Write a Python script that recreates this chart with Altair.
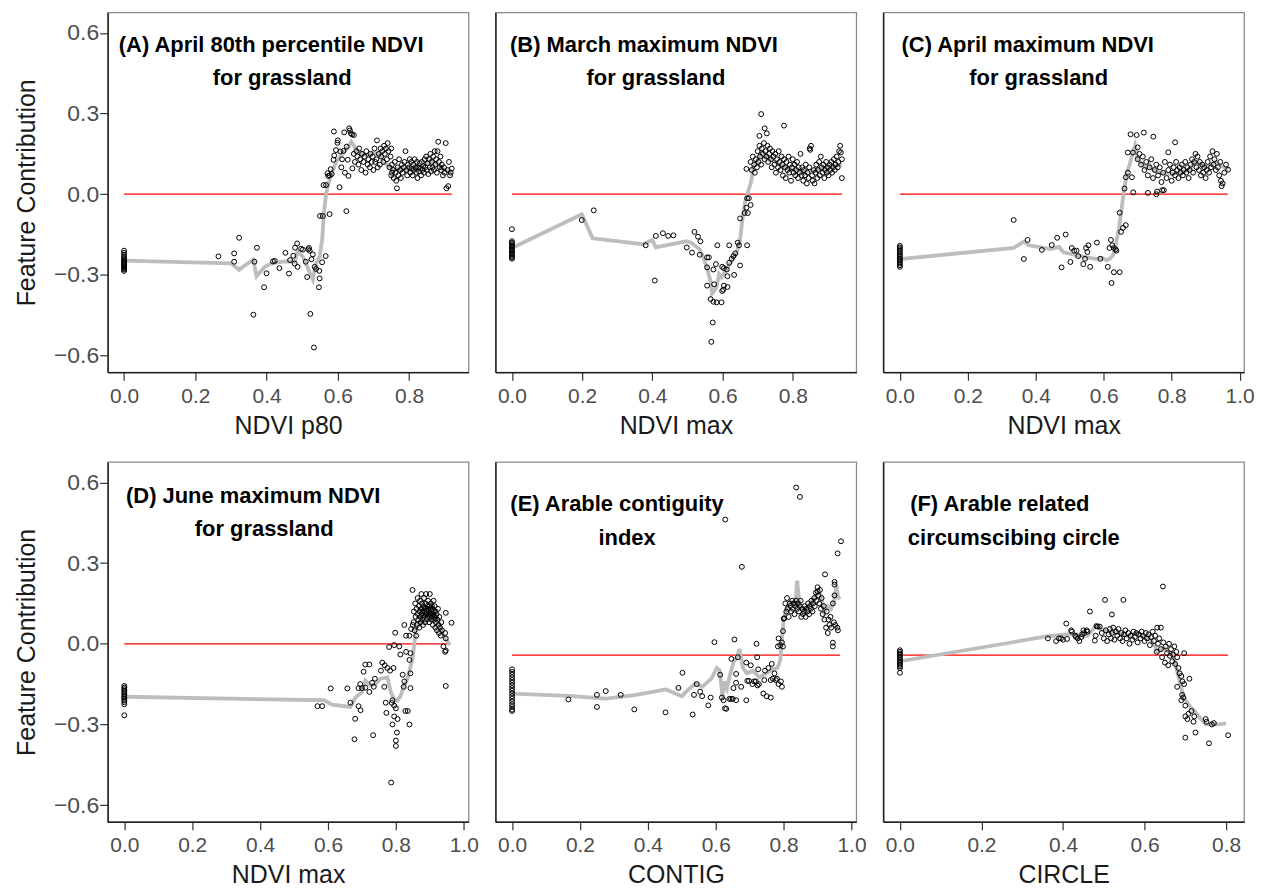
import altair as alt
import pandas as pd

# ---------------- data ----------------
# Panel A: April 80th percentile NDVI
A_ZERO_Y = [-0.21, -0.218, -0.225, -0.232, -0.238, -0.243, -0.248, -0.252, -0.256,
            -0.26, -0.264, -0.268, -0.272, -0.276, -0.28, -0.285]
A_PTS = [(0.265, -0.231), (0.309, -0.22), (0.309, -0.251), (0.323, -0.162), (0.366, -0.251),
         (0.373, -0.199), (0.363, -0.448), (0.393, -0.346), (0.40, -0.294), (0.418, -0.25),
         (0.423, -0.248), (0.436, -0.275), (0.453, -0.218), (0.463, -0.295), (0.466, -0.245),
         (0.475, -0.229), (0.479, -0.258), (0.48, -0.199), (0.486, -0.183), (0.487, -0.27),
         (0.497, -0.203), (0.502, -0.206), (0.51, -0.251), (0.514, -0.308), (0.517, -0.205),
         (0.519, -0.2), (0.521, -0.21), (0.523, -0.445), (0.526, -0.242), (0.53, -0.224),
         (0.533, -0.57), (0.535, -0.27), (0.539, -0.278), (0.548, -0.285), (0.549, -0.313),
         (0.547, -0.346), (0.556, -0.253), (0.566, -0.23), (0.55, -0.081), (0.558, -0.081),
         (0.577, -0.074), (0.56, 0.034), (0.567, 0.034), (0.573, 0.068), (0.571, 0.078),
         (0.577, 0.07), (0.58, 0.093), (0.583, 0.075), (0.605, 0.026), (0.624, -0.063),
         (0.588, 0.128), (0.59, 0.144), (0.595, 0.164), (0.599, 0.191), (0.589, 0.233),
         (0.60, 0.20), (0.607, 0.159), (0.61, 0.10), (0.612, 0.13), (0.616, 0.161),
         (0.618, 0.23), (0.62, 0.08), (0.625, 0.177), (0.628, 0.128), (0.63, 0.068),
         (0.632, 0.245), (0.634, 0.237), (0.637, 0.226), (0.64, 0.222), (0.645, 0.22),
         (0.641, 0.096), (0.645, 0.15), (0.648, 0.12), (0.652, 0.16), (0.655, 0.14),
         (0.658, 0.11), (0.66, 0.17), (0.663, 0.13), (0.666, 0.09), (0.668, 0.15),
         (0.672, 0.12), (0.675, 0.14), (0.678, 0.08), (0.68, 0.16), (0.684, 0.11),
         (0.686, 0.13), (0.69, 0.10), (0.692, 0.15), (0.695, 0.12), (0.698, 0.14),
         (0.70, 0.09), (0.703, 0.17), (0.705, 0.12), (0.708, 0.13), (0.71, 0.20),
         (0.712, 0.10), (0.715, 0.15), (0.718, 0.11), (0.72, 0.17), (0.722, 0.14),
         (0.725, 0.16), (0.728, 0.12), (0.73, 0.18), (0.732, 0.15), (0.735, 0.17),
         (0.738, 0.13), (0.74, 0.19), (0.742, 0.16), (0.745, 0.10), (0.748, 0.14),
         (0.75, 0.17), (0.752, 0.08), (0.75, 0.07), (0.752, 0.11), (0.755, 0.09),
         (0.757, 0.06), (0.76, 0.12), (0.762, 0.08), (0.764, 0.05), (0.766, 0.022),
         (0.768, 0.10), (0.77, 0.07), (0.772, 0.13), (0.775, 0.09), (0.777, 0.06),
         (0.78, 0.11), (0.782, 0.08), (0.785, 0.10), (0.787, 0.12), (0.79, 0.16),
         (0.792, 0.09), (0.795, 0.07), (0.797, 0.11), (0.80, 0.10), (0.802, 0.13),
         (0.804, 0.08), (0.806, 0.12), (0.808, 0.095), (0.81, 0.07), (0.812, 0.11),
         (0.814, 0.09), (0.816, 0.13), (0.818, 0.10), (0.82, 0.08), (0.822, 0.12),
         (0.824, 0.06), (0.826, 0.10), (0.828, 0.085), (0.83, 0.115), (0.832, 0.095),
         (0.834, 0.07), (0.836, 0.12), (0.838, 0.09), (0.84, 0.105), (0.842, 0.08),
         (0.844, 0.13), (0.846, 0.10), (0.848, 0.14), (0.85, 0.09), (0.852, 0.115),
         (0.854, 0.075), (0.856, 0.13), (0.858, 0.10), (0.86, 0.15), (0.862, 0.085),
         (0.864, 0.12), (0.866, 0.10), (0.868, 0.14), (0.87, 0.09), (0.872, 0.16),
         (0.874, 0.11), (0.876, 0.13), (0.878, 0.08), (0.88, 0.16), (0.882, 0.195),
         (0.884, 0.12), (0.886, 0.10), (0.888, 0.14), (0.89, 0.09), (0.892, 0.11),
         (0.895, 0.07), (0.898, 0.10), (0.90, 0.08), (0.903, 0.19), (0.905, 0.022),
         (0.908, 0.09), (0.91, 0.03), (0.912, 0.12), (0.915, 0.07), (0.917, 0.08),
         (0.92, 0.095)]
A_LINE = [(0.0, -0.247), (0.30, -0.257), (0.323, -0.281), (0.344, -0.26), (0.363, -0.245),
          (0.372, -0.305), (0.395, -0.27), (0.414, -0.257), (0.45, -0.25), (0.479, -0.251),
          (0.487, -0.213), (0.502, -0.232), (0.521, -0.29), (0.53, -0.317), (0.539, -0.257),
          (0.549, -0.232), (0.556, -0.17), (0.561, -0.071), (0.567, 0.0), (0.576, 0.05),
          (0.585, 0.085), (0.595, 0.12), (0.61, 0.145), (0.626, 0.17), (0.638, 0.195),
          (0.65, 0.17), (0.665, 0.15), (0.683, 0.145), (0.70, 0.155), (0.72, 0.148),
          (0.73, 0.12), (0.75, 0.095), (0.79, 0.09), (0.83, 0.10), (0.86, 0.125),
          (0.88, 0.11), (0.90, 0.09), (0.92, 0.085)]

# Panel B: March maximum NDVI
B_ZERO_Y = [-0.13, -0.175, -0.18, -0.185, -0.19, -0.195, -0.2, -0.205, -0.21, -0.215,
            -0.22, -0.225, -0.23, -0.235, -0.24]
B_PTS = [(0.199, -0.096), (0.233, -0.06), (0.381, -0.19), (0.407, -0.321), (0.41, -0.155),
         (0.43, -0.145), (0.445, -0.155), (0.46, -0.153), (0.498, -0.198), (0.513, -0.217),
         (0.52, -0.14), (0.53, -0.158), (0.537, -0.175), (0.535, -0.225), (0.556, -0.235),
         (0.561, -0.235), (0.556, -0.272), (0.556, -0.34), (0.566, -0.39), (0.574, -0.40),
         (0.583, -0.402), (0.597, -0.402), (0.572, -0.477), (0.568, -0.549), (0.576, -0.335),
         (0.581, -0.26), (0.574, -0.28), (0.585, -0.19), (0.599, -0.27), (0.604, -0.275),
         (0.612, -0.28), (0.614, -0.305), (0.604, -0.34), (0.614, -0.345), (0.599, -0.36),
         (0.602, -0.355), (0.619, -0.19), (0.619, -0.255), (0.626, -0.24), (0.631, -0.23),
         (0.636, -0.22), (0.633, -0.30), (0.643, -0.18), (0.647, -0.19), (0.65, -0.265),
         (0.65, -0.09), (0.663, -0.07), (0.668, -0.05), (0.672, -0.07), (0.675, -0.015),
         (0.68, -0.04), (0.67, -0.19), (0.668, 0.094), (0.67, -0.015),
         (0.71, 0.298), (0.775, 0.255), (0.705, 0.217), (0.726, 0.226), (0.72, 0.245),
         (0.68, 0.12), (0.683, 0.09), (0.686, 0.14), (0.69, 0.11), (0.692, 0.08),
         (0.695, 0.13), (0.698, 0.10), (0.70, 0.16), (0.702, 0.12), (0.705, 0.18),
         (0.707, 0.14), (0.71, 0.11), (0.712, 0.17), (0.715, 0.15), (0.718, 0.19),
         (0.72, 0.13), (0.722, 0.16), (0.725, 0.14), (0.728, 0.18), (0.73, 0.12),
         (0.733, 0.15), (0.735, 0.17), (0.738, 0.13), (0.74, 0.10), (0.742, 0.16),
         (0.745, 0.14), (0.748, 0.11), (0.75, 0.15), (0.752, 0.08), (0.755, 0.13),
         (0.758, 0.10), (0.76, 0.16), (0.762, 0.12), (0.765, 0.09), (0.768, 0.14),
         (0.77, 0.11), (0.772, 0.07), (0.775, 0.13), (0.778, 0.10), (0.78, 0.06),
         (0.782, 0.12), (0.785, 0.09), (0.788, 0.14), (0.79, 0.08), (0.792, 0.11),
         (0.795, 0.05), (0.798, 0.10), (0.80, 0.13), (0.802, 0.08), (0.805, 0.11),
         (0.807, 0.07), (0.81, 0.09), (0.812, 0.12), (0.815, 0.06), (0.817, 0.10),
         (0.82, 0.08), (0.822, 0.15), (0.825, 0.07), (0.827, 0.10), (0.83, 0.05),
         (0.832, 0.09), (0.835, 0.07), (0.837, 0.11), (0.84, 0.04), (0.842, 0.08),
         (0.845, 0.06), (0.847, 0.10), (0.85, 0.165), (0.852, 0.18), (0.848, 0.17),
         (0.855, 0.07), (0.857, 0.05), (0.86, 0.09), (0.862, 0.04), (0.865, 0.08),
         (0.867, 0.11), (0.87, 0.06), (0.872, 0.09), (0.875, 0.12), (0.877, 0.07),
         (0.88, 0.14), (0.882, 0.10), (0.885, 0.08), (0.887, 0.11), (0.89, 0.06),
         (0.892, 0.09), (0.895, 0.12), (0.897, 0.08), (0.90, 0.10), (0.902, 0.07),
         (0.905, 0.11), (0.907, 0.09), (0.91, 0.12), (0.912, 0.08), (0.915, 0.10),
         (0.917, 0.13), (0.92, 0.09), (0.922, 0.11), (0.925, 0.14), (0.928, 0.10),
         (0.93, 0.12), (0.932, 0.16), (0.935, 0.18), (0.937, 0.155), (0.94, 0.13),
         (0.94, 0.06)]
B_LINE = [(0.0, -0.2), (0.199, -0.075), (0.23, -0.164), (0.373, -0.186), (0.40, -0.17),
          (0.41, -0.198), (0.497, -0.175), (0.51, -0.18), (0.535, -0.205), (0.545, -0.235),
          (0.555, -0.27), (0.565, -0.32), (0.57, -0.37), (0.578, -0.357), (0.583, -0.345),
          (0.59, -0.297), (0.597, -0.31), (0.606, -0.29), (0.616, -0.27), (0.63, -0.24),
          (0.64, -0.22), (0.65, -0.17), (0.656, -0.10), (0.664, -0.03), (0.673, 0.01),
          (0.682, 0.05), (0.687, 0.10), (0.697, 0.118), (0.71, 0.16), (0.73, 0.14),
          (0.76, 0.11), (0.80, 0.09), (0.83, 0.085), (0.86, 0.09), (0.90, 0.10), (0.94, 0.11)]

# Panel C: April maximum NDVI
C_ZERO_Y = [-0.192, -0.198, -0.204, -0.21, -0.216, -0.222, -0.228, -0.234, -0.24, -0.246,
            -0.252, -0.258, -0.264, -0.27]
C_PTS = [(0.335, -0.096), (0.365, -0.241), (0.376, -0.17), (0.418, -0.207), (0.447, -0.189),
         (0.463, -0.162), (0.476, -0.272), (0.488, -0.15), (0.502, -0.252), (0.506, -0.2),
         (0.513, -0.21), (0.52, -0.21), (0.525, -0.23), (0.54, -0.26), (0.545, -0.24),
         (0.548, -0.2), (0.552, -0.215), (0.555, -0.19), (0.56, -0.27), (0.58, -0.18),
         (0.59, -0.24), (0.612, -0.27), (0.63, -0.29), (0.647, -0.29), (0.623, -0.33),
         (0.617, -0.2), (0.621, -0.17), (0.625, -0.19), (0.63, -0.2), (0.635, -0.205),
         (0.637, -0.21), (0.647, -0.069), (0.651, -0.14), (0.657, -0.125), (0.665, -0.115),
         (0.661, 0.021), (0.665, 0.063), (0.671, 0.08), (0.683, 0.063), (0.679, 0.223),
         (0.697, 0.22), (0.718, 0.229), (0.746, 0.214), (0.671, 0.155), (0.686, 0.155),
         (0.70, 0.174), (0.81, 0.193), (0.79, 0.156), (0.687, 0.007), (0.73, 0.005),
         (0.755, 0.0), (0.757, 0.01), (0.772, 0.015), (0.777, 0.015), (0.70, 0.13),
         (0.705, 0.15), (0.71, 0.11), (0.715, 0.14), (0.72, 0.09), (0.725, 0.12),
         (0.73, 0.07), (0.735, 0.10), (0.74, 0.13), (0.745, 0.06), (0.75, 0.09),
         (0.755, 0.11), (0.76, 0.07), (0.765, 0.10), (0.77, 0.045), (0.775, 0.08),
         (0.78, 0.12), (0.785, 0.06), (0.79, 0.09), (0.795, 0.11), (0.80, 0.05),
         (0.803, 0.08), (0.806, 0.10), (0.81, 0.07), (0.813, 0.12), (0.816, 0.09),
         (0.82, 0.06), (0.823, 0.10), (0.826, 0.08), (0.83, 0.11), (0.833, 0.07),
         (0.836, 0.09), (0.84, 0.12), (0.843, 0.08), (0.846, 0.10), (0.85, 0.06),
         (0.853, 0.09), (0.856, 0.11), (0.86, 0.13), (0.863, 0.08), (0.866, 0.12),
         (0.87, 0.15), (0.873, 0.10), (0.876, 0.14), (0.88, 0.09), (0.883, 0.12),
         (0.886, 0.07), (0.89, 0.11), (0.893, 0.08), (0.896, 0.10), (0.90, 0.06),
         (0.903, 0.09), (0.906, 0.12), (0.91, 0.08), (0.913, 0.14), (0.916, 0.10),
         (0.92, 0.16), (0.923, 0.11), (0.926, 0.13), (0.93, 0.09), (0.933, 0.15),
         (0.936, 0.10), (0.94, 0.07), (0.943, 0.12), (0.945, 0.05), (0.947, 0.03),
         (0.95, 0.04), (0.955, 0.08), (0.96, 0.11), (0.966, 0.091)]
C_LINE = [(0.0, -0.241), (0.335, -0.2), (0.365, -0.176), (0.38, -0.19), (0.404, -0.195),
          (0.443, -0.204), (0.468, -0.196), (0.482, -0.216), (0.52, -0.227), (0.55, -0.235),
          (0.576, -0.24), (0.596, -0.237), (0.608, -0.246), (0.618, -0.24), (0.628, -0.226),
          (0.637, -0.177), (0.645, -0.126), (0.653, -0.05), (0.66, 0.015), (0.668, 0.077),
          (0.676, 0.11), (0.685, 0.153), (0.692, 0.18), (0.70, 0.13), (0.71, 0.115),
          (0.723, 0.098), (0.733, 0.115), (0.738, 0.098), (0.76, 0.08), (0.80, 0.075),
          (0.85, 0.09), (0.87, 0.12), (0.90, 0.10), (0.93, 0.12), (0.966, 0.09)]

# Panel D: June maximum NDVI
D_ZERO_Y = [-0.157, -0.163, -0.169, -0.175, -0.181, -0.187, -0.193, -0.199, -0.205,
            -0.211, -0.217, -0.225, -0.266]
D_PTS = [(0.569, -0.232), (0.583, -0.232), (0.608, -0.166), (0.657, -0.166), (0.666, -0.219),
         (0.678, -0.355), (0.68, -0.279), (0.69, -0.232), (0.696, -0.247), (0.69, -0.165),
         (0.695, -0.15), (0.70, -0.165), (0.705, -0.104), (0.71, -0.077), (0.722, -0.077),
         (0.71, -0.163), (0.722, -0.179), (0.73, -0.145), (0.735, -0.16), (0.738, -0.13),
         (0.733, -0.34), (0.756, -0.1), (0.76, -0.07), (0.767, -0.08), (0.775, -0.09),
         (0.783, -0.1), (0.793, -0.09), (0.766, -0.16), (0.77, -0.219), (0.772, -0.257),
         (0.78, -0.012), (0.786, -0.516), (0.79, -0.30), (0.795, -0.27), (0.79, -0.21),
         (0.795, -0.23), (0.80, -0.24), (0.788, -0.22), (0.798, 0.041), (0.795, -0.005),
         (0.81, -0.01), (0.803, -0.33), (0.80, -0.36), (0.80, -0.38), (0.805, -0.28),
         (0.813, -0.04), (0.82, -0.115), (0.825, -0.14), (0.823, -0.16), (0.828, -0.25),
         (0.835, -0.25), (0.84, -0.3), (0.83, -0.03), (0.843, -0.035), (0.84, -0.06),
         (0.843, -0.11), (0.825, 0.07), (0.83, 0.03), (0.84, 0.03), (0.845, 0.055),
         (0.85, 0.07), (0.843, -0.165), (0.849, 0.2),
         (0.852, 0.08), (0.853, 0.12), (0.855, 0.05), (0.857, 0.15), (0.858, 0.10),
         (0.86, 0.03), (0.861, 0.13), (0.862, 0.07), (0.864, 0.17), (0.865, 0.11),
         (0.866, 0.09), (0.868, 0.14), (0.869, 0.06), (0.87, 0.12), (0.871, 0.16),
         (0.872, 0.10), (0.873, 0.08), (0.875, 0.185), (0.875, 0.13), (0.876, 0.11),
         (0.877, 0.15), (0.878, 0.09), (0.879, 0.12), (0.88, 0.07), (0.881, 0.14),
         (0.882, 0.10), (0.883, 0.17), (0.884, 0.12), (0.885, 0.13), (0.886, 0.08),
         (0.887, 0.15), (0.888, 0.11), (0.889, 0.185), (0.89, 0.12), (0.891, 0.09),
         (0.892, 0.14), (0.893, 0.10), (0.894, 0.13), (0.895, 0.16), (0.896, 0.11),
         (0.897, 0.12), (0.898, 0.08), (0.899, 0.14), (0.90, 0.185), (0.90, 0.10),
         (0.901, 0.13), (0.902, 0.11), (0.903, 0.15), (0.904, 0.09), (0.905, 0.12),
         (0.906, 0.14), (0.907, 0.10), (0.908, 0.13), (0.909, 0.07), (0.91, 0.11),
         (0.911, 0.16), (0.912, 0.12), (0.913, 0.09), (0.914, 0.14), (0.915, 0.10),
         (0.916, 0.06), (0.917, 0.12), (0.918, 0.08), (0.92, 0.11), (0.921, 0.05),
         (0.922, 0.09), (0.924, 0.13), (0.925, 0.07), (0.927, 0.04), (0.928, 0.10),
         (0.93, 0.06), (0.932, 0.03), (0.934, 0.08), (0.936, 0.05), (0.94, -0.01),
         (0.945, -0.03), (0.947, -0.025), (0.945, 0.04), (0.947, 0.02), (0.947, 0.115),
         (0.964, 0.078), (0.947, -0.157)]
D_LINE = [(0.0, -0.197), (0.588, -0.21), (0.612, -0.226), (0.666, -0.235), (0.681, -0.2),
          (0.70, -0.18), (0.71, -0.137), (0.725, -0.155), (0.74, -0.15), (0.755, -0.13),
          (0.775, -0.125), (0.785, -0.18), (0.795, -0.206), (0.805, -0.212), (0.815, -0.19),
          (0.824, -0.157), (0.834, -0.13), (0.844, -0.08), (0.849, -0.055), (0.853, -0.015),
          (0.86, 0.06), (0.88, 0.10), (0.90, 0.12), (0.92, 0.10), (0.93, 0.07), (0.94, 0.03),
          (0.96, -0.005)]

# Panel E: Arable contiguity index
E_ZERO_Y = [-0.095, -0.105, -0.115, -0.125, -0.135, -0.145, -0.155, -0.165, -0.175,
            -0.185, -0.195, -0.205, -0.215, -0.225, -0.235, -0.245, -0.25]
E_PTS = [(0.166, -0.207), (0.25, -0.19), (0.276, -0.176), (0.25, -0.235), (0.32, -0.19),
         (0.36, -0.244), (0.452, -0.255), (0.49, -0.164), (0.502, -0.108), (0.532, -0.263),
         (0.536, -0.19), (0.544, -0.15), (0.554, -0.178), (0.56, -0.195), (0.578, -0.229),
         (0.585, -0.2), (0.596, 0.006), (0.613, -0.115), (0.618, -0.2), (0.623, -0.21),
         (0.627, -0.24), (0.631, -0.242), (0.628, 0.462), (0.64, -0.205), (0.645, -0.205),
         (0.65, -0.205), (0.646, -0.056), (0.652, -0.165), (0.655, 0.016), (0.66, -0.21),
         (0.66, -0.112), (0.665, -0.05), (0.66, -0.145), (0.675, -0.16), (0.677, 0.286),
         (0.69, -0.07), (0.693, -0.138), (0.698, -0.138), (0.703, -0.08), (0.708, -0.15),
         (0.69, -0.21), (0.713, -0.14), (0.718, -0.14), (0.723, -0.155), (0.72, 0.0),
         (0.722, -0.05), (0.725, -0.095), (0.727, -0.15), (0.74, -0.185), (0.75, -0.195),
         (0.762, -0.2), (0.743, -0.135), (0.745, -0.1), (0.755, -0.09), (0.762, -0.135),
         (0.765, -0.075), (0.768, -0.13), (0.773, -0.11), (0.777, -0.135), (0.78, -0.13),
         (0.785, -0.15), (0.785, 0.02), (0.79, -0.005), (0.783, -0.01), (0.795, 0.005),
         (0.792, -0.14), (0.795, -0.16), (0.798, -0.01), (0.798, 0.047), (0.80, 0.093),
         (0.802, 0.095), (0.805, 0.15), (0.808, 0.12), (0.81, 0.17), (0.812, 0.13),
         (0.815, 0.10), (0.818, 0.15), (0.82, 0.14), (0.822, 0.12), (0.825, 0.16),
         (0.827, 0.13), (0.83, 0.15), (0.832, 0.11), (0.835, 0.14), (0.837, 0.16),
         (0.84, 0.13), (0.842, 0.15), (0.845, 0.12), (0.847, 0.14), (0.85, 0.16),
         (0.852, 0.10), (0.855, 0.13), (0.857, 0.11), (0.86, 0.12), (0.862, 0.14),
         (0.865, 0.10), (0.867, 0.13), (0.87, 0.12), (0.872, 0.15), (0.875, 0.11),
         (0.877, 0.14), (0.88, 0.13), (0.882, 0.16), (0.885, 0.12), (0.887, 0.15),
         (0.89, 0.17), (0.892, 0.14), (0.895, 0.19), (0.897, 0.16), (0.90, 0.21),
         (0.902, 0.18), (0.905, 0.15), (0.907, 0.20), (0.91, 0.13), (0.912, 0.17),
         (0.915, 0.11), (0.918, 0.14), (0.92, 0.09), (0.922, 0.258), (0.925, 0.06),
         (0.927, 0.12), (0.93, 0.04), (0.932, 0.09), (0.935, 0.07), (0.938, 0.10),
         (0.94, 0.06), (0.945, -0.01), (0.945, 0.004), (0.95, 0.23), (0.95, 0.22),
         (0.95, 0.18), (0.945, 0.15), (0.948, 0.08), (0.952, 0.07), (0.958, 0.06),
         (0.96, 0.05), (0.959, 0.336), (0.969, 0.381), (0.837, 0.581), (0.848, 0.546),
         (0.90, 0.195)]
E_LINE = [(0.0, -0.185), (0.166, -0.194), (0.277, -0.204), (0.365, -0.19), (0.453, -0.17),
          (0.50, -0.195), (0.52, -0.17), (0.54, -0.148), (0.56, -0.16), (0.587, -0.13),
          (0.603, -0.09), (0.612, -0.10), (0.62, -0.2), (0.626, -0.14), (0.633, -0.165),
          (0.643, -0.11), (0.652, -0.07), (0.662, -0.05), (0.67, -0.02), (0.68, -0.09),
          (0.692, -0.11), (0.71, -0.10), (0.728, -0.125), (0.748, -0.11), (0.767, -0.095),
          (0.782, -0.09), (0.79, -0.06), (0.795, 0.015), (0.80, 0.09), (0.81, 0.14),
          (0.825, 0.155), (0.835, 0.155), (0.84, 0.235), (0.847, 0.14), (0.86, 0.13),
          (0.875, 0.14), (0.89, 0.17), (0.90, 0.19), (0.91, 0.18), (0.92, 0.115),
          (0.93, 0.14), (0.94, 0.13), (0.95, 0.165), (0.955, 0.22), (0.96, 0.175),
          (0.966, 0.165)]

# Panel F: Arable related circumscribing circle
F_ZERO_Y = [-0.024, -0.03, -0.036, -0.042, -0.048, -0.054, -0.06, -0.066, -0.072, -0.078,
            -0.084, -0.09, -0.108]
F_PTS = [(0.363, 0.02), (0.383, 0.01), (0.39, 0.02), (0.395, 0.02), (0.40, 0.015),
         (0.408, 0.075), (0.41, 0.018), (0.42, 0.05), (0.422, 0.045), (0.43, 0.03),
         (0.432, 0.025), (0.436, 0.02), (0.44, 0.01), (0.445, 0.025), (0.447, 0.035),
         (0.45, 0.05), (0.452, 0.04), (0.458, 0.05), (0.46, 0.045), (0.466, 0.12),
         (0.478, 0.012), (0.482, 0.066), (0.48, 0.03), (0.485, 0.064), (0.49, 0.064),
         (0.503, 0.163), (0.52, 0.109), (0.548, 0.163), (0.645, 0.213),
         (0.495, 0.04), (0.50, 0.02), (0.505, 0.05), (0.508, 0.01), (0.512, 0.035),
         (0.515, 0.055), (0.518, 0.02), (0.52, 0.04), (0.523, 0.06), (0.526, 0.015),
         (0.53, 0.045), (0.533, 0.03), (0.536, 0.055), (0.54, 0.02), (0.543, 0.04),
         (0.546, 0.01), (0.55, 0.035), (0.553, 0.05), (0.556, 0.02), (0.56, 0.04),
         (0.563, 0.0), (0.566, 0.03), (0.57, 0.015), (0.573, 0.045), (0.576, 0.025),
         (0.58, 0.04), (0.583, 0.005), (0.586, 0.035), (0.59, 0.02), (0.593, 0.045),
         (0.596, 0.03), (0.60, 0.01), (0.603, 0.04), (0.606, 0.02), (0.61, 0.035),
         (0.613, -0.005), (0.616, 0.025), (0.62, 0.045), (0.623, 0.01), (0.626, 0.03),
         (0.63, -0.03), (0.631, 0.06), (0.633, 0.0), (0.636, 0.02), (0.64, 0.06),
         (0.64, -0.02), (0.643, -0.05), (0.646, 0.005), (0.65, -0.07), (0.652, -0.01),
         (0.655, -0.035), (0.658, -0.08), (0.66, 0.0), (0.662, -0.045), (0.665, -0.02),
         (0.668, -0.065), (0.67, -0.04), (0.673, -0.01), (0.675, -0.075), (0.678, -0.03),
         (0.68, -0.05), (0.683, -0.09), (0.686, -0.11), (0.697, -0.035), (0.69, -0.12),
         (0.693, -0.14), (0.697, -0.15), (0.71, -0.13), (0.68, -0.16), (0.69, -0.21),
         (0.692, -0.19), (0.695, -0.2), (0.70, -0.23), (0.70, -0.27), (0.705, -0.28),
         (0.708, -0.26), (0.715, -0.25), (0.72, -0.29), (0.722, -0.27), (0.70, -0.349),
         (0.725, -0.33), (0.75, -0.28), (0.752, -0.29), (0.765, -0.3), (0.77, -0.295),
         (0.758, -0.37), (0.805, -0.34)]
F_LINE = [(0.0, -0.065), (0.363, 0.028), (0.42, 0.037), (0.46, 0.03), (0.48, 0.065),
          (0.50, 0.05), (0.535, 0.04), (0.56, 0.028), (0.58, 0.04), (0.60, 0.028),
          (0.615, 0.015), (0.625, -0.01), (0.632, -0.03), (0.648, -0.016), (0.66, -0.03),
          (0.668, -0.04), (0.676, -0.077), (0.684, -0.127), (0.692, -0.176), (0.70, -0.21),
          (0.713, -0.236), (0.725, -0.255), (0.742, -0.286), (0.75, -0.3), (0.766, -0.3),
          (0.782, -0.3), (0.80, -0.296)]

# reference (red) lines: (y, x end)
REF_Y = [0.0, 0.0, 0.0, 0.0, -0.042, -0.042]
REF_XEND = [0.92, 0.94, 0.965, 0.955, 0.966, 0.805]

X_TITLES = ["NDVI p80", "NDVI max", "NDVI max", "NDVI max", "CONTIG", "CIRCLE"]
PANEL_TITLES = [["(A) April 80th percentile NDVI", "for grassland"],
                ["(B)  March maximum NDVI", "for grassland"],
                ["(C) April maximum NDVI", "for grassland"],
                ["(D) June maximum NDVI", "for grassland"],
                ["(E) Arable contiguity", "index"],
                ["(F) Arable related", "circumscibing circle"]]
X_DOMAINS = [(-0.046, 0.967), (-0.047, 0.981), (-0.049, 1.013),
             (-0.049, 1.014), (-0.049, 1.014), (-0.041, 0.844)]
X_TICKS = [[0, 0.2, 0.4, 0.6, 0.8], [0, 0.2, 0.4, 0.6, 0.8], [0, 0.2, 0.4, 0.6, 0.8, 1.0],
           [0, 0.2, 0.4, 0.6, 0.8, 1.0], [0, 0.2, 0.4, 0.6, 0.8, 1.0], [0, 0.2, 0.4, 0.6, 0.8]]
Y_DOMAIN = (-0.662, 0.676)
Y_TICKS = [-0.6, -0.3, 0.0, 0.3, 0.6]

# title text positions inside each panel (px from panel top-left)
TITLE_POS = [[(164, 33), (175, 66)], [(149, 33), (161, 66)], [(145, 33), (156, 66)],
             [(146, 34), (157, 67)], [(122, 42), (132, 76)], [(117, 42), (131, 76)]]

W, H = 362, 361
FONT = "Liberation Sans"

ZEROS = [A_ZERO_Y, B_ZERO_Y, C_ZERO_Y, D_ZERO_Y, E_ZERO_Y, F_ZERO_Y]
PTS = [A_PTS, B_PTS, C_PTS, D_PTS, E_PTS, F_PTS]
LINES = [A_LINE, B_LINE, C_LINE, D_LINE, E_LINE, F_LINE]


def panel(i):
    show_y = i in (0, 3)
    pts = [(0.0, y) for y in ZEROS[i]] + list(PTS[i])
    pdf = pd.DataFrame(pts, columns=["x", "y"])
    ldf = pd.DataFrame(LINES[i], columns=["x", "y"])
    ldf["o"] = range(len(ldf))
    rdf = pd.DataFrame({"x": [0.0], "x2": [REF_XEND[i]], "y": [REF_Y[i]]})

    xscale = alt.Scale(domain=list(X_DOMAINS[i]), nice=False, zero=False)
    yscale = alt.Scale(domain=list(Y_DOMAIN), nice=False, zero=False)
    xaxis = alt.Axis(values=X_TICKS[i], format=".1f", title=X_TITLES[i])
    if show_y:
        yaxis = alt.Axis(values=Y_TICKS, format=".1f", title="Feature Contribution")
    else:
        yaxis = alt.Axis(values=Y_TICKS, labels=False, ticks=False, title=None)

    base_x = alt.X("x:Q", scale=xscale, axis=xaxis)
    base_y = alt.Y("y:Q", scale=yscale, axis=yaxis)

    rule = alt.Chart(rdf).mark_rule(color="#ff0000", strokeWidth=1.3).encode(
        x=base_x, x2="x2:Q", y=base_y)
    line = alt.Chart(ldf).mark_line(color="#bdbdbd", strokeWidth=3.8).encode(
        x=base_x, y=base_y, order="o:Q")
    points = alt.Chart(pdf).mark_point(shape="circle", filled=False, color="black",
                                       size=24, strokeWidth=1.0, opacity=1).encode(
        x=base_x, y=base_y)
    layers = [rule, line, points]
    for (cx, cy), txt in zip(TITLE_POS[i], PANEL_TITLES[i]):
        tdf = pd.DataFrame({"t": [txt]})
        layers.append(alt.Chart(tdf).mark_text(font=FONT, fontSize=22, fontWeight="bold",
                                               color="black", align="center",
                                               baseline="middle").encode(
            x=alt.value(cx), y=alt.value(cy), text="t:N"))
    return alt.layer(*layers).properties(width=W, height=H)


chart = alt.concat(*[panel(i) for i in range(6)], columns=3,
                   spacing={"row": 90, "column": 27}, bounds="flush").properties(
    padding={"left": 5, "top": 2, "right": 5, "bottom": 5}
).configure_view(stroke="#8a8a8a", strokeWidth=1.3).configure_axis(
    grid=False, labelFont=FONT, titleFont=FONT, labelColor="#4d4d4d",
    titleColor="#1a1a1a", titleFontWeight="normal", tickColor="#333333",
    domainColor="#222222", domainWidth=1.5, tickWidth=1.2, tickSize=8
).configure_axisX(
    labelFontSize=21, titleFontSize=25, labelPadding=5, titlePadding=7
).configure_axisY(
    labelFontSize=23, titleFontSize=25, labelPadding=1, titlePadding=14
)

chart.save("out.html", embed_options={"renderer": "svg", "actions": False})
